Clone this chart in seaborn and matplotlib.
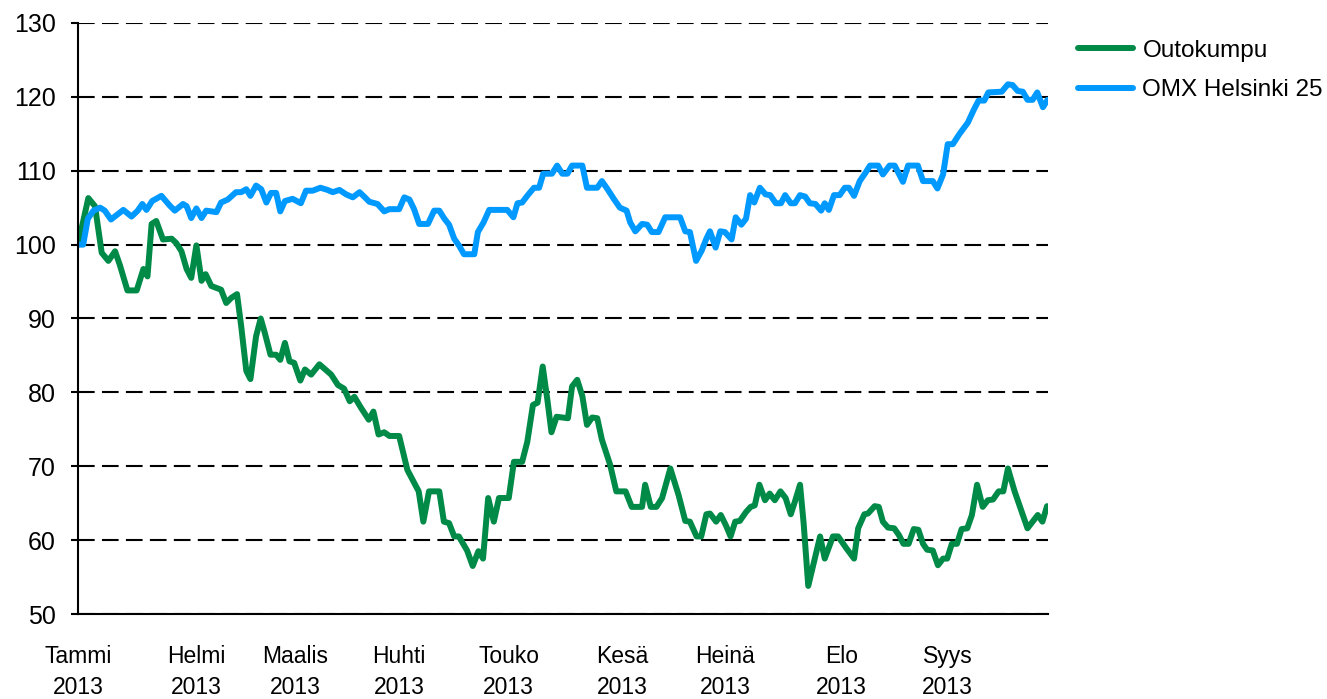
"""Outokumpu vs OMX Helsinki 25, indexed (2.1.2013 = 100)."""

import matplotlib
matplotlib.use("Agg")
import matplotlib.pyplot as plt
import pandas as pd
import seaborn as sns

# x = trading day index since 2.1.2013
outokumpu_days = [
    0, 2.0, 3.3, 4.6, 5.9, 7.2, 8.1, 9.6, 11.4, 12.7, 13.5, 14.3, 15.2, 16.5, 18.2, 19.1,
    20.1, 21.1, 22.0, 23.0, 24.0, 24.8, 25.9, 27.8, 28.8, 29.8, 30.9, 31.7, 32.7, 33.5,
    34.6, 35.5, 36.2, 37.4, 38.5, 39.3, 40.2, 41.1, 42.0, 43.2, 44.1, 45.3, 46.9, 49.2,
    50.5, 51.7, 52.8, 53.7, 55.0, 56.5, 57.4, 58.4, 59.5, 60.5, 62.4, 64.0, 66.2, 67.1,
    68.2, 70.2, 71.1, 72.1, 73.1, 74.0, 75.6, 76.7, 77.8, 78.7, 79.7, 80.8, 81.8, 83.7,
    84.7, 86.3, 87.3, 88.4, 89.3, 90.3, 91.2, 92.0, 93.0, 95.2, 96.0, 97.0, 98.0, 98.9,
    99.9, 100.9, 101.8, 103.4, 104.6, 106.4, 107.6, 109.6, 110.2, 111.3, 112.4, 113.5,
    115.1, 116.7, 118.0, 118.9, 120.2, 121.1, 122.1, 122.8, 124.0, 124.9, 125.9, 126.8,
    127.7, 128.6, 129.8, 130.7, 131.5, 132.4, 133.5, 134.4, 135.4, 136.5, 137.5, 138.5,
    139.3, 140.3, 141.0, 141.9, 144.2, 145.1, 146.7, 147.7, 149.3, 150.8, 151.6, 152.8,
    153.5, 154.8, 155.6, 156.4, 157.4, 158.6, 159.5, 160.4, 161.4, 162.4, 163.3, 164.2,
    165.0, 166.1, 167.1, 168.1, 168.9, 169.8, 170.8, 171.7, 172.8, 173.7, 174.7, 175.8,
    176.8, 177.8, 178.9, 179.8, 180.7, 182.0, 183.4, 184.5, 186.5, 187.4, 188.3,
]
outokumpu = [
    100, 106.3, 105.2, 98.9, 97.8, 99.1, 97.3, 93.8, 93.8, 96.7, 95.7, 102.8, 103.2, 100.7, 100.8, 100.2,
    99.1, 96.7, 95.5, 99.9, 95.1, 96.0, 94.4, 93.9, 92.1, 92.8, 93.3, 89.0, 82.9, 81.8,
    87.6, 90.0, 88.3, 85.1, 85.1, 84.4, 86.7, 84.2, 84.0, 81.6, 83.1, 82.4, 83.8, 82.4,
    81.0, 80.5, 78.8, 79.4, 77.9, 76.3, 77.4, 74.3, 74.6, 74.1, 74.1, 69.5, 66.6, 62.5,
    66.6, 66.6, 62.5, 62.3, 60.5, 60.5, 58.6, 56.5, 58.5, 57.5, 65.7, 62.5, 65.7, 65.7,
    70.6, 70.6, 73.3, 78.3, 78.6, 83.5, 79.0, 74.6, 76.7, 76.5, 80.8, 81.7, 79.5, 75.6,
    76.6, 76.5, 73.6, 70.2, 66.6, 66.6, 64.5, 64.5, 67.5, 64.5, 64.5, 65.7,
    69.7, 66.1, 62.6, 62.5, 60.5, 60.5, 63.5, 63.6, 62.5, 63.4, 62.0, 60.5,
    62.5, 62.6, 63.8, 64.5, 64.7, 67.5, 65.4, 66.3, 65.4, 66.6, 65.7, 63.5,
    65.2, 67.5, 62.3, 53.8, 60.5, 57.5, 60.5, 60.5, 58.9, 57.5, 61.6, 63.5,
    63.6, 64.6, 64.5, 62.5, 61.7, 61.6, 60.7, 59.5, 59.5, 61.5, 61.4, 59.5,
    58.7, 58.6, 56.6, 57.5, 57.5, 59.5, 59.5, 61.5, 61.6, 63.4, 67.5, 64.5,
    65.4, 65.5, 66.6, 66.6, 69.7, 66.6, 63.8, 61.6, 63.4, 62.5, 64.6,
]

omx_days = [
    0, 1.0, 1.9, 3.0, 4.3, 5.2, 6.4, 7.5, 8.8, 10.4, 11.6, 12.5, 13.3, 14.4, 16.2, 17.8,
    18.8, 20.4, 21.1, 22.0, 23.0, 24.0, 24.9, 26.9, 27.8, 29.1, 30.7, 31.7, 32.7, 33.5,
    34.6, 35.6, 36.6, 37.5, 38.5, 39.3, 40.2, 41.7, 43.3, 44.3, 45.6, 47.1, 48.5, 49.5,
    50.8, 52.1, 53.4, 54.7, 55.6, 56.6, 58.2, 59.5, 60.5, 62.4, 63.4, 64.4, 65.3, 66.3,
    68.0, 69.2, 70.2, 71.2, 72.1, 73.1, 74.1, 75.0, 77.0, 77.7, 78.8, 79.9, 83.4, 84.6,
    85.4, 86.3, 87.4, 88.6, 89.6, 90.4, 92.1, 93.1, 94.1, 95.1, 96.0, 98.0, 98.9, 100.9,
    101.8, 102.9, 104.1, 105.3, 106.6, 107.3, 108.3, 109.6, 110.6, 111.5, 112.8, 114.1,
    117.0, 118.0, 118.9, 120.1, 121.2, 122.1, 122.8, 123.9, 124.8, 125.7, 127.0, 127.8,
    128.9, 129.8, 130.6, 131.4, 132.5, 133.6, 134.5, 135.6, 136.6, 137.4, 138.5, 139.3,
    140.3, 141.3, 142.2, 143.3, 144.4, 145.1, 145.9, 146.9, 148.0, 149.0, 149.8, 150.8,
    151.9, 153.0, 153.9, 155.5, 156.4, 157.7, 158.7, 160.3, 161.3, 163.2, 164.2, 166.1,
    167.0, 168.1, 169.0, 170.0, 171.3, 172.9, 174.1, 175.0, 176.1, 176.9, 179.5, 180.7,
    181.6, 182.6, 183.6, 184.5, 185.5, 186.4, 187.5, 188.4,
]
omx = [
    100, 100, 103.5, 104.6, 105.0, 104.6, 103.4, 104.0, 104.7, 103.8, 104.6, 105.5, 104.7, 105.9, 106.6, 105.3,
    104.6, 105.5, 105.2, 103.6, 104.9, 103.6, 104.6, 104.4, 105.7, 106.1, 107.1, 107.1, 107.5, 106.6,
    108.0, 107.5, 105.7, 107.0, 107.0, 104.5, 105.9, 106.2, 105.6, 107.3, 107.3, 107.7, 107.4, 107.1,
    107.4, 106.8, 106.4, 107.1, 106.5, 105.8, 105.5, 104.5, 104.8, 104.8, 106.4, 106.1, 104.8, 102.8,
    102.8, 104.6, 104.6, 103.5, 102.7, 100.8, 99.8, 98.7, 98.7, 101.7, 103.0, 104.7, 104.7, 103.7,
    105.6, 105.7, 106.7, 107.7, 107.7, 109.6, 109.6, 110.7, 109.6, 109.6, 110.7, 110.7, 107.7, 107.7,
    108.6, 107.5, 106.2, 105.0, 104.6, 103.0, 101.8, 102.8, 102.7, 101.7, 101.7, 103.7,
    103.7, 101.8, 101.7, 97.8, 99.2, 100.8, 101.8, 99.6, 101.8, 101.7, 100.7, 103.7,
    102.7, 103.5, 106.7, 105.7, 107.7, 106.8, 106.7, 105.6, 105.6, 106.7, 105.6, 105.6,
    106.7, 106.5, 105.6, 105.5, 104.6, 105.6, 104.7, 106.7, 106.7, 107.7, 107.7, 106.6,
    108.6, 109.7, 110.7, 110.7, 109.5, 110.7, 110.7, 108.5, 110.7, 110.7, 108.6, 108.6,
    107.6, 109.5, 113.6, 113.6, 115.0, 116.5, 118.3, 119.5, 119.5, 120.6, 120.7, 121.7,
    121.6, 120.8, 120.7, 119.6, 119.6, 120.6, 118.6, 119.6,
]

# first trading day of each month (index)
month_days = [0, 23, 42.2, 62.4, 83.7, 105.8, 125.8, 148.3, 169]
month_labels = ["Tammi", "Helmi", "Maalis", "Huhti", "Touko", "Kesä", "Heinä", "Elo", "Syys"]
year = "2013"

y_ticks = [50, 60, 70, 80, 90, 100, 110, 120, 130]

series_names = ["Outokumpu", "OMX Helsinki 25"]
colors = {"Outokumpu": "#008A47", "OMX Helsinki 25": "#0099FF"}

df = pd.concat([
    pd.DataFrame({"day": outokumpu_days, "value": outokumpu, "series": series_names[0]}),
    pd.DataFrame({"day": omx_days, "value": omx, "series": series_names[1]}),
])

sns.set_style("white")
plt.rcParams["font.family"] = ["Liberation Sans", "DejaVu Sans"]
plt.rcParams["text.color"] = "black"
plt.rcParams["xtick.color"] = "black"
plt.rcParams["ytick.color"] = "black"

fig = plt.figure(figsize=(13.27, 6.99), dpi=100)
ax = fig.add_axes([0.0588, 0.1216, 0.7310, 0.8455])

sns.lineplot(data=df, x="day", y="value", hue="series", hue_order=series_names,
             palette=colors, estimator=None, linewidth=4.3, ax=ax, legend=False)

ax.set_xlim(0, 188.5)
ax.set_ylim(50, 130)
ax.set_yticks(y_ticks)
ax.set_xticks(month_days)
ax.set_xticklabels([f"{m}\n{year}" for m in month_labels], fontsize=16.5, linespacing=1.45)
ax.tick_params(axis="y", labelsize=18, length=5, width=1.5, pad=11, color="black",
               labelcolor="black", left=True)
ax.tick_params(axis="x", length=0, pad=22, labelcolor="black")
ax.set_xlabel("")
ax.set_ylabel("")

ax.yaxis.grid(True, color="black", linewidth=1.5, linestyle=(0, (8, 3.5)))
ax.xaxis.grid(False)
ax.set_axisbelow(True)

for side in ["top", "right"]:
    ax.spines[side].set_visible(False)
for side in ["left", "bottom"]:
    ax.spines[side].set_color("black")
    ax.spines[side].set_linewidth(1.5)

handles = [plt.Line2D([], [], color=colors[n], linewidth=4.3) for n in series_names]
fig.legend(handles, series_names, loc="upper left", bbox_to_anchor=(0.8124, 0.943),
           frameon=False, fontsize=17.5, handlelength=2.25, handletextpad=0.4,
           labelspacing=0.72, borderpad=0, borderaxespad=0)

fig.savefig("out.png", dpi=100)
